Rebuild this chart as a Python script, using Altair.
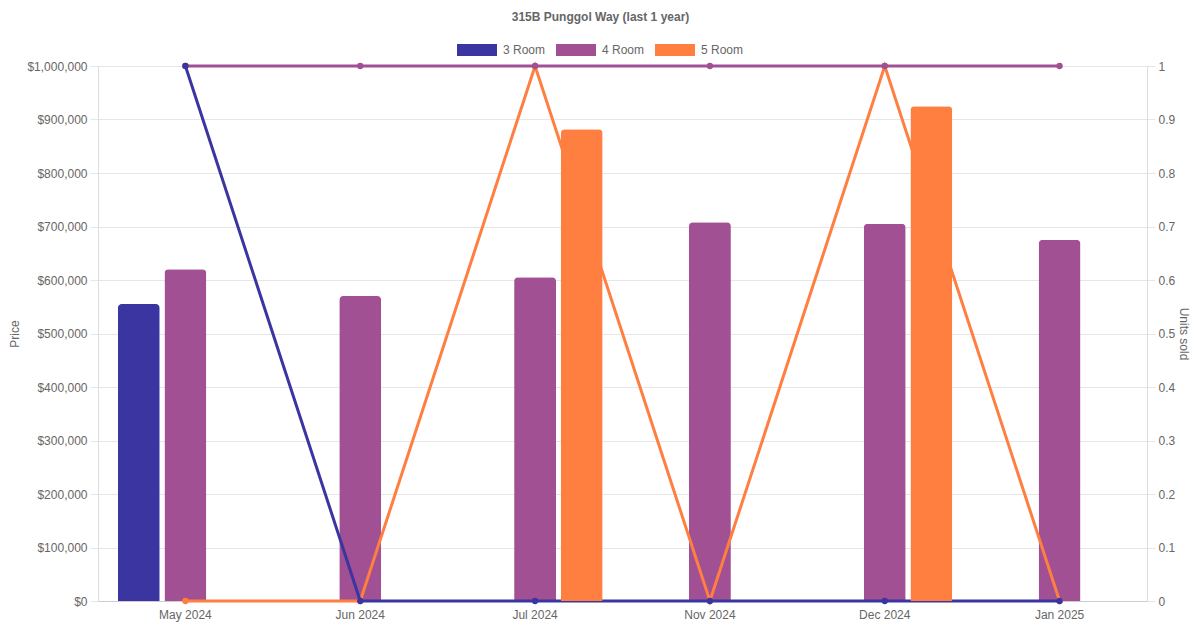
import altair as alt
import pandas as pd

months = ["May 2024", "Jun 2024", "Jul 2024", "Nov 2024", "Dec 2024", "Jan 2025"]
rooms = ["3 Room", "4 Room", "5 Room"]
colors = ["#3a35a1", "#a05093", "#ff7f41"]

price_3 = [555000, None, None, None, None, None]
price_4 = [620000, 570000, 605000, 708000, 705000, 675000]
price_5 = [None, None, 882000, None, 925000, None]

units_3 = [1, 0, 0, 0, 0, 0]
units_4 = [1, 1, 1, 1, 1, 1]
units_5 = [0, 0, 1, 0, 1, 0]

rows = []
for room, prices, units in zip(rooms, [price_3, price_4, price_5], [units_3, units_4, units_5]):
    for m, p, u in zip(months, prices, units):
        rows.append({"month": m, "room": room, "price": p, "units": u})
df = pd.DataFrame(rows)

FONT = "Liberation Sans"
GRAY = "#666666"

x_enc = alt.X("month:N", sort=months, title=None,
              scale=alt.Scale(paddingInner=0, paddingOuter=0),
              axis=alt.Axis(labelAngle=0, ticks=False, grid=False, domainColor="#cccccc",
                            labelColor=GRAY, labelFontSize=12, labelFont=FONT, labelPadding=8))

xoff = alt.XOffset("room:N", scale=alt.Scale(domain=rooms, paddingInner=0.1, paddingOuter=0.425))

color_scale = alt.Scale(domain=rooms, range=colors)
legend = alt.Legend(orient="none", legendX=359, legendY=-36, direction="horizontal",
                    symbolType="M-1,-0.3H1V0.3H-1Z", symbolSize=1600,
                    symbolStrokeWidth=0, symbolOpacity=1,
                    labelColor=GRAY, labelFontSize=12, labelFont=FONT,
                    labelOffset=6, columnPadding=10, padding=0)
color_enc = alt.Color("room:N", scale=color_scale, title=None, legend=legend)

price_scale = alt.Scale(domain=[0, 1000000], nice=False)
units_scale = alt.Scale(domain=[0, 1], nice=False)

bar_kw = dict(cornerRadiusTopLeft=4, cornerRadiusTopRight=4)

bars34 = alt.Chart(df).transform_filter(
    alt.datum.price != None
).transform_filter(
    alt.FieldOneOfPredicate(field="room", oneOf=rooms[:2])
).mark_bar(**bar_kw).encode(
    x=x_enc,
    xOffset=xoff,
    y=alt.Y("price:Q", scale=price_scale, title="Price",
            axis=alt.Axis(orient="left", format="$,.0f", values=[i * 100000 for i in range(11)],
                          gridColor="#e6e6e6", tickColor="#e6e6e6", tickSize=8, domainColor="#dddddd",
                          labelColor=GRAY, labelFontSize=12, labelFont=FONT, labelPadding=3,
                          titleColor=GRAY, titleFontSize=12, titleFont=FONT, titleFontWeight="normal",
                          titlePadding=5)),
    color=color_enc,
)

bars5 = alt.Chart(df).transform_filter(
    alt.datum.price != None
).transform_filter(
    alt.datum.room == rooms[2]
).mark_bar(**bar_kw).encode(
    x=x_enc,
    xOffset=xoff,
    y=alt.Y("price:Q", scale=price_scale, axis=None),
    color=color_enc,
)

def line_layer(i, with_axis=False):
    if with_axis:
        yax = alt.Axis(orient="right", values=[k / 10 for k in range(11)], format=".1~f", grid=False,
                       tickColor="#e6e6e6", tickSize=8, domainColor="#dddddd",
                       labelColor=GRAY, labelFontSize=12, labelFont=FONT, labelPadding=3,
                       titleColor=GRAY, titleFontSize=12, titleFont=FONT, titleFontWeight="normal",
                       titlePadding=2)
        y = alt.Y("units:Q", scale=units_scale, title="Units sold", axis=yax)
    else:
        y = alt.Y("units:Q", scale=units_scale, axis=None)
    return alt.Chart(df).transform_filter(
        alt.datum.room == rooms[i]
    ).mark_line(strokeWidth=3, point=alt.OverlayMarkDef(filled=True, size=40, color=colors[i])).encode(
        x=x_enc,
        y=y,
        color=alt.value(colors[i]),
    )

chart = alt.layer(
    bars34,
    line_layer(2, with_axis=True),
    line_layer(1),
    line_layer(0),
    bars5,
).resolve_scale(
    y="independent"
).properties(
    width=1049,
    height=535,
    title=alt.TitleParams("315B Punggol Way (last 1 year)", anchor="middle", dx=-22, dy=12,
                          font=FONT, fontSize=12, fontWeight="bold", color=GRAY, offset=18),
    padding={"left": 90, "top": 58, "right": 45, "bottom": 21},
    autosize=alt.AutoSizeParams(type="none"),
).configure_view(stroke=None).configure(background="white")

chart.save("out.html", embed_options={"renderer": "svg", "actions": False})
